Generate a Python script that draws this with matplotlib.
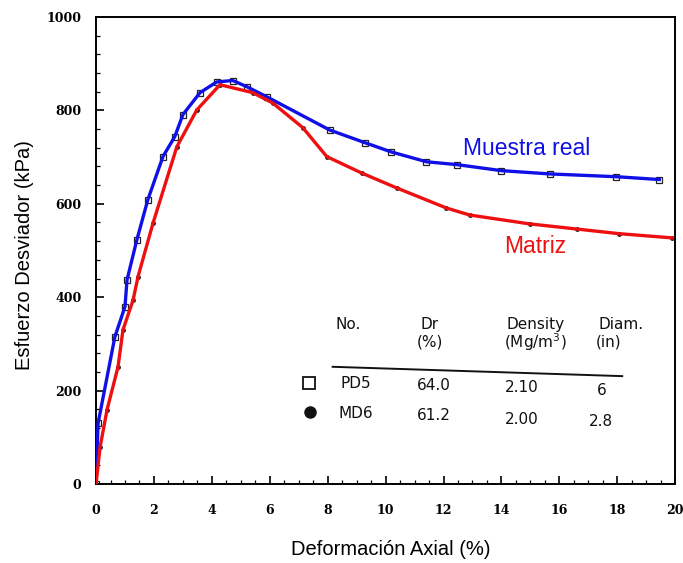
import matplotlib
matplotlib.use("Agg")
import matplotlib.pyplot as plt
from matplotlib.ticker import MultipleLocator

# Muestra real (PD5) - strain (%) vs deviator stress (kPa)
real_strain = [0.0, 0.07, 0.65, 1.0, 1.07, 1.41, 1.79, 2.31, 2.72, 3.0, 3.59, 4.17,
               4.72, 5.2, 5.9, 8.07, 9.28, 10.2, 11.41, 12.45, 14.0, 15.66, 17.97, 19.45]
real_stress = [0, 130, 315, 380, 437, 523, 609, 701, 744, 791, 838, 861,
               864, 851, 829, 758, 731, 711, 690, 684, 671, 664, 658, 652]

# Matriz (MD6)
matrix_strain = [0.0, 0.14, 0.38, 0.76, 0.93, 1.28, 1.45, 1.97, 2.79, 3.48, 4.28,
                 5.41, 6.1, 7.14, 7.97, 9.17, 10.38, 12.1, 12.9, 14.97, 16.6, 18.07, 19.9]
matrix_stress = [0, 79, 159, 251, 330, 394, 444, 559, 722, 801, 855,
                 838, 816, 763, 701, 666, 634, 591, 576, 557, 546, 536, 527]

# test summary table
tbl_header = [("No.", ""), ("Dr", "(%)"), ("Density", "(Mg/m$^3$)"), ("Diam.", "(in)")]
tbl_rows = [("PD5", "64.0", "2.10", "6"),
            ("MD6", "61.2", "2.00", "2.8")]

fig = plt.figure(figsize=(6.83, 5.63), dpi=100)
ax = fig.add_axes([0.1406, 0.1403, 0.848, 0.8295])

# scanned measurement markers
ax.plot(real_strain, real_stress, ls="none", marker="s", ms=4.5, mfc="none",
        mec="#222222", mew=0.9, zorder=2)
ax.plot(matrix_strain, matrix_stress, ls="none", marker="o", ms=2.5,
        color="#222222", zorder=2)

ax.plot(real_strain, real_stress, color="#1010e6", lw=2.4, zorder=3)
ax.plot(matrix_strain, matrix_stress, color="#ee1010", lw=2.4, zorder=3)

ax.text(14.86, 718, "Muestra real", color="#1010e6", fontsize=16.5,
        family="Liberation Sans", ha="center", va="center")
ax.text(15.17, 508, "Matriz", color="#ee1010", fontsize=16.5,
        family="Liberation Sans", ha="center", va="center")

# table inside the plot (the scanned table sits slightly tilted)
tfont = dict(fontsize=11, family="DejaVu Sans", ha="center", va="center", color="#111111")
head_x = [8.72, 11.52, 15.17, 18.14]
sub_x = [8.72, 11.52, 15.17, 17.69]
for hx, sx, (h1, h2) in zip(head_x, sub_x, tbl_header):
    ax.text(hx, 341, h1, **tfont)
    if h2:
        ax.text(sx, 304, h2, **tfont)
ax.plot([8.17, 18.17], [251, 231], color="#111111", lw=1.4)
val_x = [8.97, 11.66, 14.69, 17.45]
row_y = [[216, 210, 206, 201], [152, 146, 139, 133]]
for ys, row in zip(row_y, tbl_rows):
    for vx, vy, val in zip(val_x, ys, row):
        ax.text(vx, vy, val, **tfont)
ax.plot([7.34], [216], marker="s", ms=9, mfc="white", mec="#111111", mew=1.3)
ax.plot([7.38], [154], marker="o", ms=8, color="#111111")

ax.set_xlim(0, 20)
ax.set_ylim(0, 1000)
ax.xaxis.set_major_locator(MultipleLocator(2))
ax.xaxis.set_minor_locator(MultipleLocator(0.5))
ax.yaxis.set_major_locator(MultipleLocator(200))
ax.yaxis.set_minor_locator(MultipleLocator(40))
ax.tick_params(which="both", direction="in", color="black")
ax.tick_params(which="major", length=6, width=1.2)
ax.tick_params(which="minor", length=3, width=0.9)
ax.tick_params(axis="x", which="major", pad=14.5)
ax.tick_params(axis="y", which="major", pad=10.5)
for lbl in ax.get_xticklabels() + ax.get_yticklabels():
    lbl.set_family("DejaVu Serif")
    lbl.set_fontweight("bold")
    lbl.set_fontsize(9)
for sp in ax.spines.values():
    sp.set_linewidth(1.4)

ax.set_xlabel("Deformación Axial (%)", fontsize=14.5, family="Liberation Sans", labelpad=16.5)
ax.set_ylabel("Esfuerzo Desviador (kPa)", fontsize=14.5, family="Liberation Sans", labelpad=9)
ax.xaxis.label.set_x(0.509)
ax.yaxis.label.set_y(0.49)

fig.savefig("out.png", dpi=100)
